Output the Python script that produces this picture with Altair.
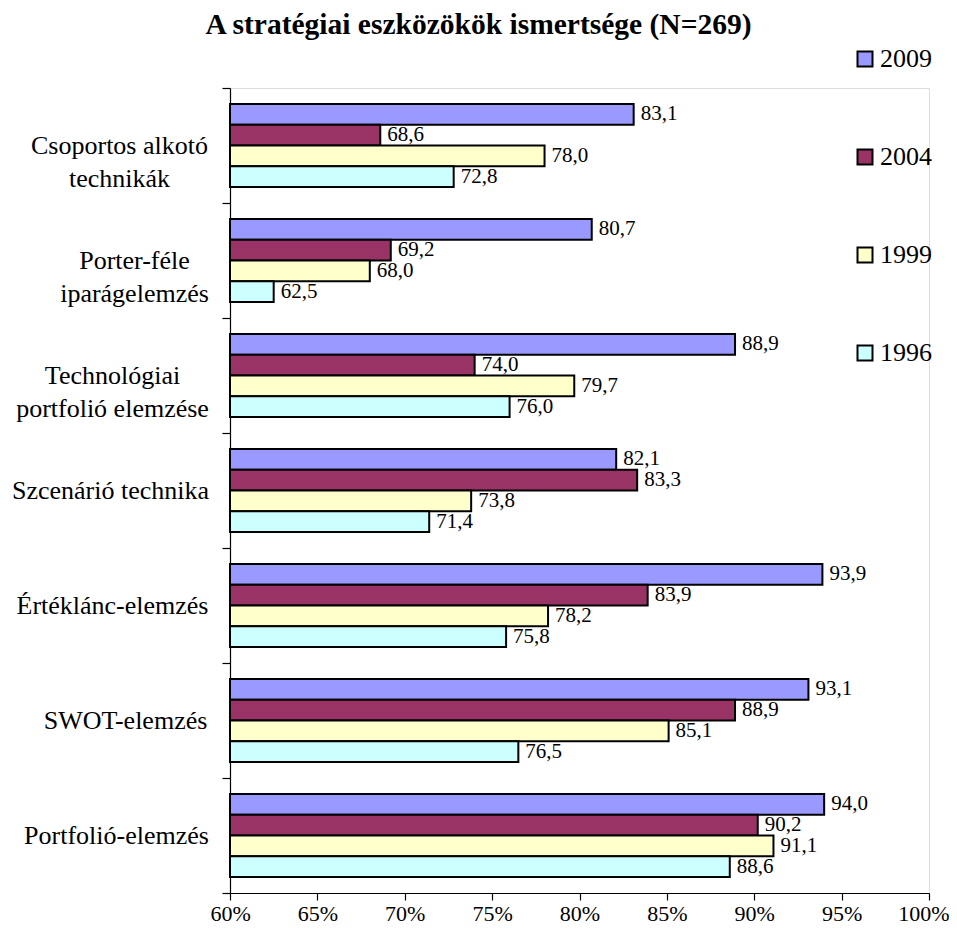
import altair as alt
import pandas as pd

# ---- data ----
categories = [
    "Csoportos alkotó|technikák",
    "Porter-féle|iparágelemzés",
    "Technológiai|portfolió elemzése",
    "Szcenárió technika",
    "Értéklánc-elemzés",
    "SWOT-elemzés",
    "Portfolió-elemzés",
]
years = ["2009", "2004", "1999", "1996"]
v2009 = [83.1, 80.7, 88.9, 82.1, 93.9, 93.1, 94.0]
v2004 = [68.6, 69.2, 74.0, 83.3, 83.9, 88.9, 90.2]
v1999 = [78.0, 68.0, 79.7, 73.8, 78.2, 85.1, 91.1]
v1996 = [72.8, 62.5, 76.0, 71.4, 75.8, 76.5, 88.6]
colors = ["#9999FF", "#993366", "#FFFFCC", "#CCFFFF"]
x_ticks = [60, 65, 70, 75, 80, 85, 90, 95, 100]
title_text = "A stratégiai eszközökök ismertsége (N=269)"

series = {"2009": v2009, "2004": v2004, "1999": v1999, "1996": v1996}
rows = []
for y in years:
    for c, v in zip(categories, series[y]):
        rows.append({"cat": c, "year": y, "val": v})
df = pd.DataFrame(rows)

FONT = "Liberation Serif"

# half widths (px) of the label blocks -> centred multi-line labels with aligned right edge
label_half = {
    "Csoportos alkotó|technikák": 91,
    "Porter-féle|iparágelemzés": 76,
    "Technológiai|portfolió elemzése": 98,
    "Szcenárió technika": 100,
    "Értéklánc-elemzés": 98,
    "SWOT-elemzés": 85,
    "Portfolió-elemzés": 94,
}
pad_expr = ""
for k, h in label_half.items():
    pad_expr += f"datum.value == '{k}' ? {12 + h} : "
pad_expr += "100"

y_enc = alt.Y(
    "cat:N",
    sort=categories,
    title=None,
    scale=alt.Scale(paddingInner=0, paddingOuter=0),
    axis=alt.Axis(
        labelExpr="split(datum.label, '|')",
        labelFont=FONT,
        labelFontSize=26,
        labelColor="black",
        labelAlign="center",
        labelBaseline="middle",
        labelLineHeight=33,
        labelLimit=400,
        labelPadding={"expr": pad_expr},
        tickBand="extent",
        tickSize=8,
        tickColor="black",
        domainColor="black",
        domainWidth=1.2,
        tickWidth=1.2,
        grid=False,
    ),
)
yoff = alt.YOffset("year:N", sort=years, scale=alt.Scale(paddingInner=0, paddingOuter=0.771))

x_scale = alt.Scale(domain=[60, 100], zero=False, nice=False)

bars = alt.Chart(df).mark_bar(stroke="black", strokeWidth=2).encode(
    x=alt.X(
        "val:Q",
        scale=x_scale,
        title=None,
        axis=alt.Axis(
            values=x_ticks,
            labelExpr="datum.value + '%'",
            labelFont=FONT,
            labelFontSize=22,
            labelColor="black",
            labelPadding=3,
            labelFlush=True,
            labelFlushOffset=20,
            tickSize=7,
            tickColor="black",
            domainColor="black",
            domainWidth=1.2,
            tickWidth=1.2,
            grid=False,
        ),
    ),
    x2=alt.datum(60),
    y=y_enc,
    yOffset=yoff,
    color=alt.Color(
        "year:N",
        sort=years,
        scale=alt.Scale(domain=years, range=colors),
        legend=alt.Legend(
            title=None,
            orient="none",
            legendX=622,
            legendY=-42,
            direction="vertical",
            symbolType="square",
            symbolSize=225,
            symbolStrokeWidth=2,
            symbolStrokeColor="black",
            labelFont=FONT,
            labelFontSize=26,
            labelColor="black",
            labelOffset=2,
            rowPadding=72,
            padding=0,
        ),
    ),
)

labels = alt.Chart(df).transform_calculate(
    lab="replace(format(datum.val, '.1f'), '.', ',')"
).mark_text(
    align="left", baseline="middle", dx=7, font=FONT, fontSize=21, color="black"
).encode(
    x=alt.X("val:Q", scale=x_scale),
    y=alt.Y("cat:N", sort=categories),
    yOffset=yoff,
    text="lab:N",
)

chart = (
    alt.layer(bars, labels)
    .properties(
        width=699,
        height=805,
        autosize=alt.AutoSizeParams(type="none"),
        padding={"left": 222, "top": 80, "right": 20, "bottom": 35},
        title=alt.TitleParams(
            text=title_text,
            font=FONT,
            fontSize=29.5,
            fontWeight="bold",
            color="black",
            anchor="middle",
            frame="group",
            dx=-101,
            dy=27,
            baseline="alphabetic",
            offset=10,
        ),
    )
    .configure_view(stroke=None)
    .configure(background="white")
)

chart.save("out.html", embed_options={"renderer": "svg", "actions": False})
